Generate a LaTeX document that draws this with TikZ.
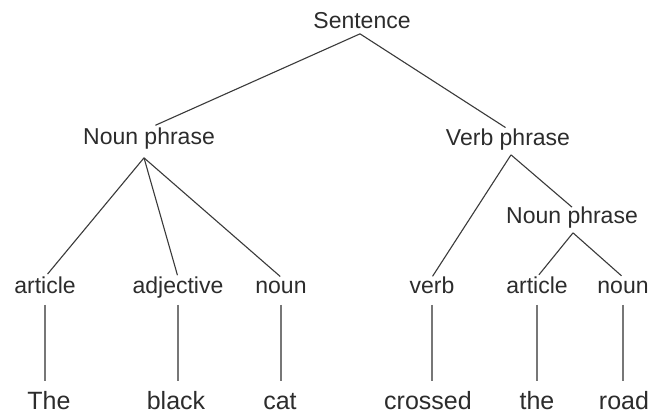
\documentclass[tikz,border=0pt]{standalone}
\usepackage{fontspec}
\setmainfont{Liberation Sans}
\usetikzlibrary{calc}
\definecolor{ink}{HTML}{2C2C2C}
\definecolor{edgecol}{HTML}{3A3A3A}
\definecolor{stemcol}{HTML}{777777}
\begin{document}
\begin{tikzpicture}[x=1pt,y=-1pt,
  lab/.style={font=\fontsize{23}{26}\selectfont, text=ink, inner sep=0pt,
    text height=16.5pt, text depth=4.8pt},
  leaf/.style={font=\fontsize{25}{28}\selectfont, text=ink, inner sep=0pt,
    text height=18pt, text depth=5.2pt},
  edgeline/.style={draw=edgecol, line width=1.1pt},
  stemline/.style={draw=stemcol, line width=1.1pt}]
\useasboundingbox (0,0) rectangle (652,414);
\fill[white] (0,0) rectangle (652,414);

% phrase nodes
\node[lab] (s)   at (362,23)  {Sentence};
\node[lab] (np)  at (149,139) {Noun phrase};
\node[lab] (vp)  at (508,140) {Verb phrase};
\node[lab] (np2) at (572,218) {Noun phrase};

% category nodes
\node[lab] (art)  at (45,288)  {article};
\node[lab] (adj)  at (178,288) {adjective};
\node[lab] (nn)   at (281,288) {noun};
\node[lab] (vb)   at (432,288) {verb};
\node[lab] (art2) at (537,288) {article};
\node[lab] (nn2)  at (623,288) {noun};

% words
\node[leaf] (w1) at (49,403)  {The};
\node[leaf] (w2) at (176,403) {black};
\node[leaf] (w3) at (280,403) {cat};
\node[leaf] (w4) at (428,403) {crossed};
\node[leaf] (w5) at (537,403) {the};
\node[leaf] (w6) at (624,403) {road};

% branching points
\coordinate (sb)   at ($(s.south)+(-2,0)$);
\coordinate (npb)  at ($(np.south)+(-5,8)$);
\coordinate (vpb)  at ($(vp.south)+(3,4)$);
\coordinate (np2b) at ($(np2.south)+(1,4)$);

% branches
\draw[edgeline, shorten >=7pt] (sb) -- (np.north);
\draw[edgeline, shorten >=3pt] (sb) -- (vp.north);
\draw[edgeline, shorten >=4pt] (npb) -- (art.north);
\draw[edgeline, shorten >=2pt] (npb) -- (adj.north);
\draw[edgeline, shorten >=1pt] (npb) -- (nn.north);
\draw[edgeline, shorten >=1pt] (vpb) -- (vb.north);
\draw[edgeline] (vpb) -- (np2.north);
\draw[edgeline, shorten >=3pt] (np2b) -- (art2.north);
\draw[edgeline, shorten >=2pt] (np2b) -- (nn2.north);

% stems
\foreach \c/\w in {art/w1, adj/w2, nn/w3, vb/w4, art2/w5, nn2/w6}{
  \draw[stemline, shorten <=6pt, shorten >=10pt] (\c.south) -- (\c.south |- \w.north);
}
\end{tikzpicture}
\end{document}
